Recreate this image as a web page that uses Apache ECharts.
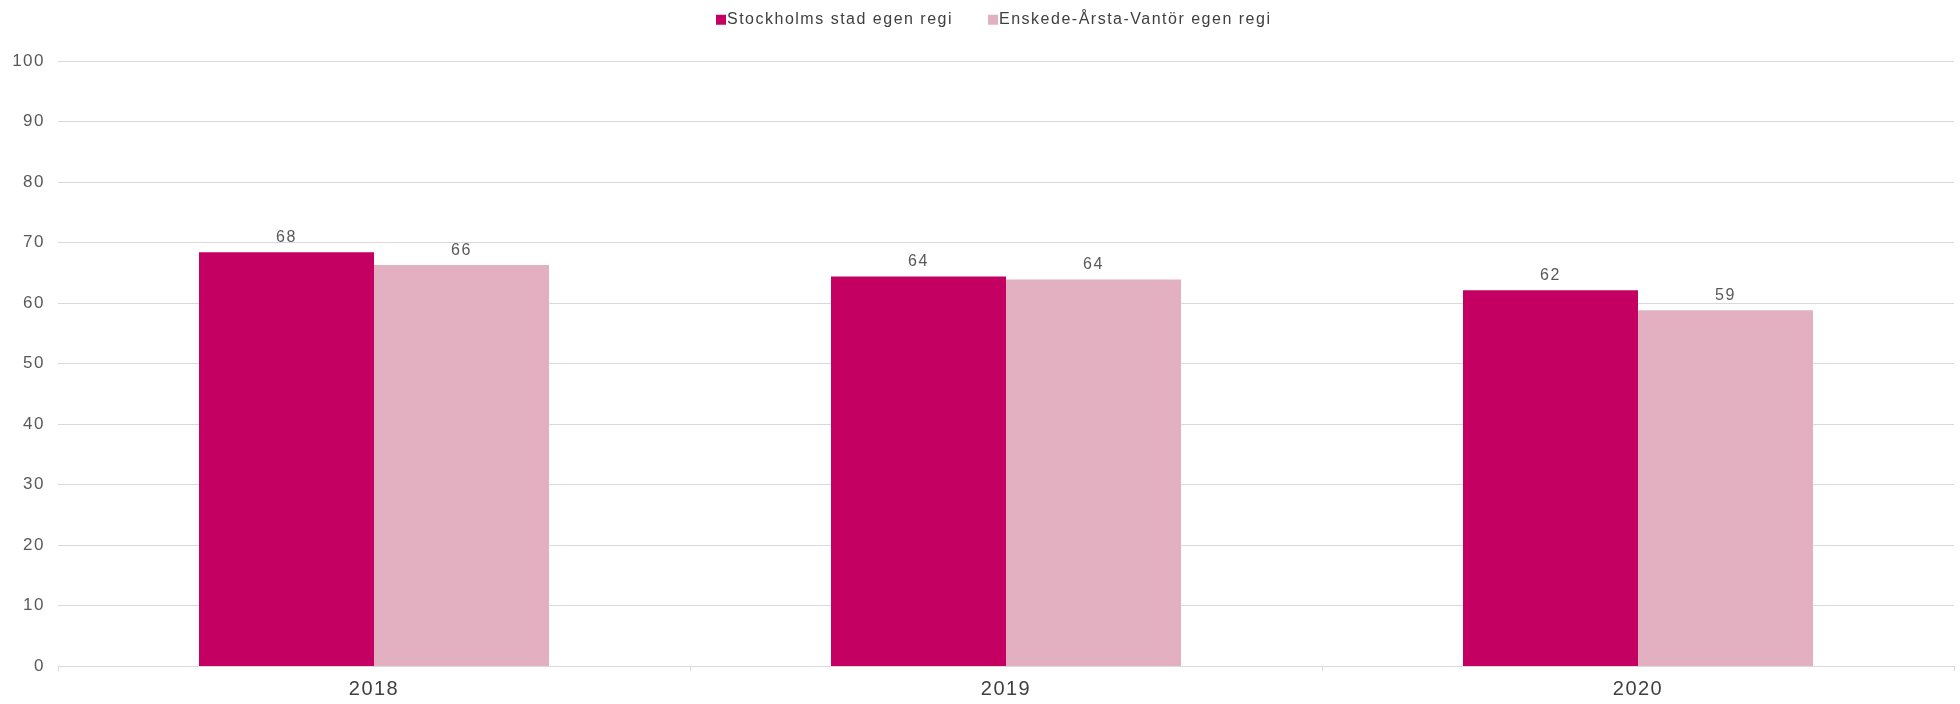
<!DOCTYPE html>
<html><head><meta charset="utf-8">
<script src="https://cdn.jsdelivr.net/npm/echarts@6/dist/echarts.min.js"></script>
<style>html,body{margin:0;padding:0;background:#fff}#c{width:1960px;height:704px}</style>
</head><body><div id="c"></div>
<script>
const categories = ['2018', '2019', '2020'];
const seriesNames = ['Stockholms stad egen regi', 'Enskede-Årsta-Vantör egen regi'];
const stockholm = [68.4, 64.4, 62.1];
const enskede = [66.3, 63.9, 58.8];
const colors = ['#c40062', '#e2b0c1'];

// widen text tracking to match the reference typography
const LS = '1.5px';
const P = CanvasRenderingContext2D.prototype;
const of = P.fillText, om = P.measureText;
P.fillText = function () { try { this.letterSpacing = LS; } catch (e) {} return of.apply(this, arguments); };
P.measureText = function () { try { this.letterSpacing = LS; } catch (e) {} return om.apply(this, arguments); };

const chart = echarts.init(document.getElementById('c'));
const font = 'Liberation Sans, Arial, sans-serif';
const mk = (name, data, color) => ({
  name, type: 'bar', data, barWidth: 175, barGap: '0%',
  itemStyle: { color },
  label: { show: true, position: 'top', distance: 6, color: '#595959', fontSize: 16, fontFamily: font,
    formatter: p => Math.round(p.value) },
  animation: false
});
chart.setOption({
  animation: false,
  color: colors,
  legend: {
    top: 6, left: 711, itemWidth: 10, itemHeight: 10, itemGap: 35,
    icon: 'rect',
    textStyle: { fontSize: 16, color: '#404040', fontFamily: font, padding: [0,0,0,-4] },
    data: seriesNames
  },
  grid: { left: 58, right: 6, top: 61, bottom: 38 },
  xAxis: {
    type: 'category', data: categories,
    axisLine: { lineStyle: { color: '#d9d9d9' } },
    axisTick: { show: true, length: 5, lineStyle: { color: '#d9d9d9' } },
    axisLabel: { fontSize: 20, color: '#404040', fontFamily: font, margin: 13 }
  },
  yAxis: {
    type: 'value', min: 0, max: 100, interval: 10,
    axisLine: { show: false }, axisTick: { show: false },
    splitLine: { lineStyle: { color: '#d9d9d9' } },
    axisLabel: { fontSize: 17, color: '#595959', fontFamily: font, margin: 13 }
  },
  series: [mk(seriesNames[0], stockholm, colors[0]), mk(seriesNames[1], enskede, colors[1])]
});
</script></body></html>
